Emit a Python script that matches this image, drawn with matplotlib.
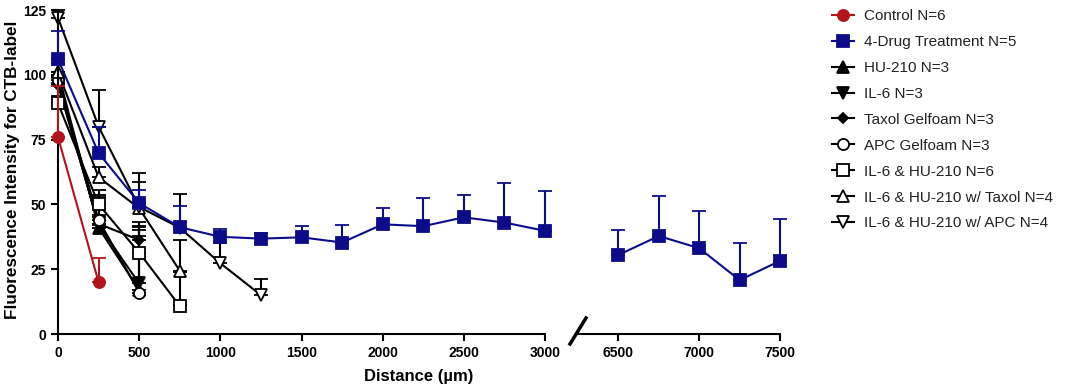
import numpy as np
import matplotlib
matplotlib.use("Agg")
import matplotlib.pyplot as plt
from matplotlib.lines import Line2D

plt.rcParams['font.family'] = ['Liberation Sans', 'DejaVu Sans']

# ---------------- data ----------------
x_ctrl = [0, 250]
ctrl = [76, 20]
ctrl_err = [19.5, 9.5]

x_drug = [0, 250, 500, 750, 1000, 1250, 1500, 1750, 2000, 2250, 2500, 2750, 3000,
          6500, 6750, 7000, 7250, 7500]
drug = [106, 69.8, 50.5, 41.2, 37.5, 36.8, 37.3, 35.3, 42.3, 41.6, 45.0, 43.0, 39.8,
        30.5, 37.8, 33.1, 20.8, 28.2]
drug_err = [11, 10, 5, 8, 3, 2, 4.3, 6.8, 6.2, 10.8, 8.5, 15.2, 15.4,
            9.7, 15.5, 14.5, 14.2, 16.2]

x_hu = [0, 250, 500]
hu = [101, 41, 17]
hu_err = [3, 4, 23]

x_il6 = [0, 250, 500]
il6 = [97, 42, 19.5]
il6_err = [3, 4, 22]

x_taxol = [0, 250, 500]
taxol = [96, 42.5, 36.3]
taxol_err = [3, 11, 5]

x_apc = [0, 250, 500]
apc = [98, 44, 16]
apc_err = [3, 9, 22]

x_ilhu = [0, 250, 500, 750]
ilhu = [89, 50, 31.4, 10.8]
ilhu_err = [3, 5.6, 12, 13]

x_ilhu_tax = [0, 250, 500, 750]
ilhu_tax = [101, 60.5, 48.5, 24.4]
ilhu_tax_err = [3, 4, 10, 12]

x_ilhu_apc = [0, 250, 500, 750, 1000, 1250]
ilhu_apc = [122, 80, 49, 41, 27.3, 15]
ilhu_apc_err = [3, 14, 13, 13, 8, 6.2]

labels = ["Control N=6", "4-Drug Treatment N=5", "HU-210 N=3", "IL-6 N=3",
          "Taxol Gelfoam N=3", "APC Gelfoam N=3", "IL-6 & HU-210 N=6",
          "IL-6 & HU-210 w/ Taxol N=4", "IL-6 & HU-210 w/ APC N=4"]

RED = '#B3141C'
BLUE = '#0C0C8A'
BLACK = '#000000'

fig = plt.figure(figsize=(10.65, 3.87), dpi=100)
axL = fig.add_axes([58/1065, 1-334/387, (545-58)/1065, (334-10)/387])
axR = fig.add_axes([578/1065, 1-334/387, (780-578)/1065, (334-10)/387])

series = [
    (x_ctrl, ctrl, ctrl_err, RED, 'o', RED, 6),
    (x_drug, drug, drug_err, BLUE, 's', BLUE, 5),
    (x_hu, hu, hu_err, BLACK, '^', BLACK, 2),
    (x_il6, il6, il6_err, BLACK, 'v', BLACK, 2),
    (x_taxol, taxol, taxol_err, BLACK, 'D', BLACK, 2),
    (x_apc, apc, apc_err, BLACK, 'o', 'white', 2),
    (x_ilhu, ilhu, ilhu_err, BLACK, 's', 'white', 2),
    (x_ilhu_tax, ilhu_tax, ilhu_tax_err, BLACK, '^', 'white', 2),
    (x_ilhu_apc, ilhu_apc, ilhu_apc_err, BLACK, 'v', 'white', 2),
]

handles = []
for (xs, ys, es, col, mk, fc, z) in series:
    xs = np.array(xs, float); ys = np.array(ys, float); es = np.array(es, float)
    ms = 5.5 if mk == 'D' else 8
    for ax, mask in ((axL, xs <= 3000), (axR, xs > 3000)):
        if mask.sum() == 0:
            continue
        eb = ax.errorbar(xs[mask], ys[mask], yerr=[np.zeros(mask.sum()), es[mask]],
                         color=col, marker=mk, markersize=ms, markerfacecolor=fc,
                         markeredgecolor=col, markeredgewidth=1.3, linewidth=1.5,
                         elinewidth=1.5, capsize=5, capthick=1.5, zorder=z)
        eb.lines[0].set_clip_on(False)
        for c in eb.lines[1]:
            c.set_clip_on(False)
        for c in eb.lines[2]:
            c.set_clip_on(False)
    handles.append(Line2D([], [], color=col, marker=mk, markersize=ms,
                          markerfacecolor=fc, markeredgecolor=col,
                          markeredgewidth=1.3, linewidth=1.5))

for ax in (axL, axR):
    ax.set_ylim(0, 125)
    for s in ('top', 'right'):
        ax.spines[s].set_visible(False)
    ax.spines['bottom'].set_linewidth(1.5)
    ax.spines['left'].set_linewidth(1.5)
    ax.tick_params(direction='out', length=5, width=1.5, labelsize=10)

axL.set_xlim(0, 3000)
axL.set_xticks(np.arange(0, 3001, 500))
axL.set_yticks(np.arange(0, 126, 25))
axR.set_xlim(6250, 7500)
axR.set_xticks([6500, 7000, 7500])
axR.spines['left'].set_visible(False)
axR.set_yticks([])
for ax in (axL, axR):
    for t in ax.get_xticklabels() + ax.get_yticklabels():
        t.set_fontweight('bold')

fig.text(13/1065, 1-170/387, "Fluorescence Intensity for CTB-label",
         rotation=90, ha='center', va='center', fontsize=12.3, fontweight='bold')
fig.text(419/1065, 1-376/387, "Distance (µm)", ha='center', va='center',
         fontsize=12, fontweight='bold')

# axis break slash
fig.add_artist(Line2D([570/1065, 586/1065], [1-344/387, 1-318/387],
                      color='black', linewidth=2.5, transform=fig.transFigure))

leg = fig.legend(handles, labels, loc='upper left',
                 bbox_to_anchor=(826/1065, 1-3/387), frameon=False,
                 fontsize=11, handlelength=1.4, handletextpad=0.7,
                 labelspacing=0.78, borderaxespad=0)
for t in leg.get_texts():
    t.set_color('#222222')

fig.savefig("out.png", dpi=100)
